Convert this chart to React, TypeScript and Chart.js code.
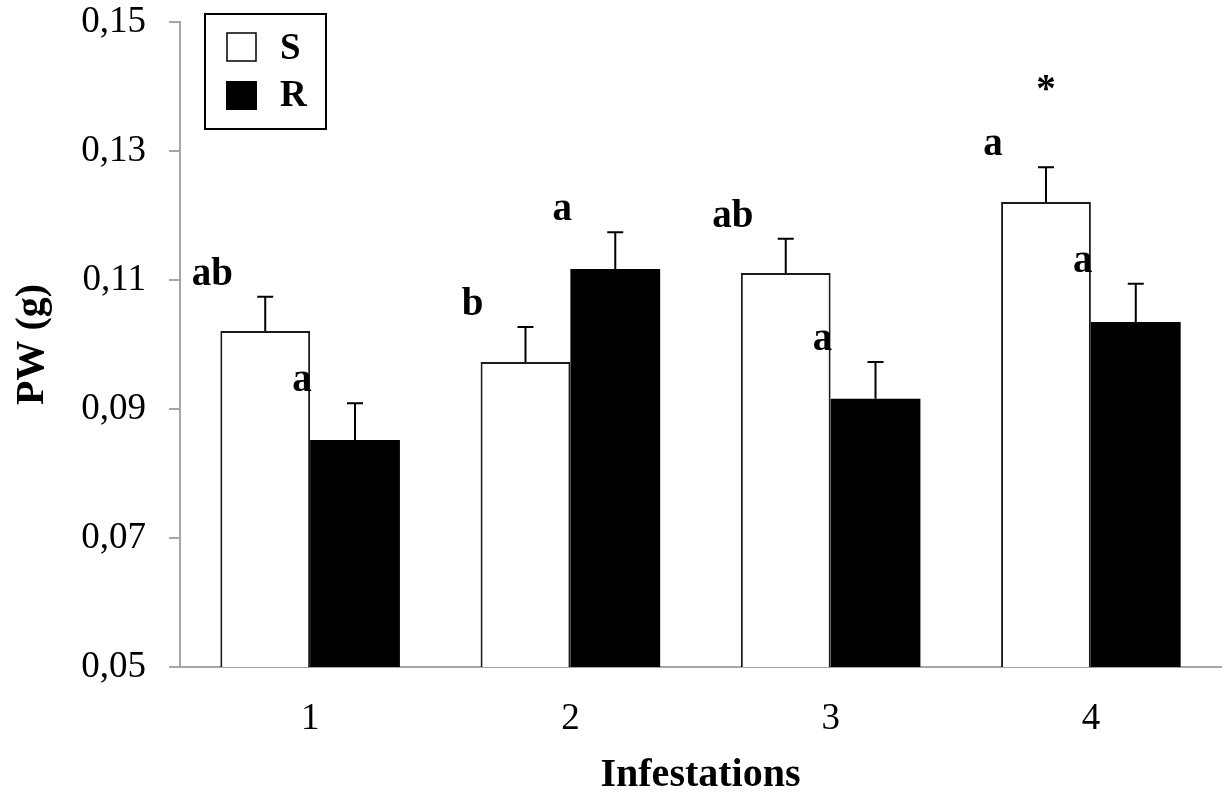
import React, { useEffect, useRef } from "react";
import { Chart, registerables } from "chart.js";

Chart.register(...registerables);

const categories = ["1", "2", "3", "4"];
const seriesNames = ["S", "R"];
const sMeans = [0.1021, 0.0973, 0.1111, 0.1221];
const sErrors = [0.0053, 0.0054, 0.0053, 0.0054];
const rMeans = [0.0852, 0.1117, 0.0916, 0.1035];
const rErrors = [0.0057, 0.0057, 0.0057, 0.0059];
const sLetters = ["ab", "b", "ab", "a"];
const rLetters = ["a", "a", "a", "a"];
const sMarks = ["", "", "", "*"];
const yTicks = [0.05, 0.07, 0.09, 0.11, 0.13, 0.15];

const FONT = '"Liberation Serif", "Times New Roman", serif';

const errorPlugin = {
  id: "errorsAndLetters",
  afterDatasetsDraw(chart: any) {
    const ctx = chart.ctx;
    const y = chart.scales.y;
    const errs = [sErrors, rErrors];
    const letters = [sLetters, rLetters];
    chart.data.datasets.forEach((ds: any, di: number) => {
      const meta = chart.getDatasetMeta(di);
      meta.data.forEach((el: any, i: number) => {
        const v = ds.data[i];
        const top = y.getPixelForValue(v + errs[di][i]);
        const base = y.getPixelForValue(v);
        ctx.save();
        ctx.strokeStyle = "#000";
        ctx.lineWidth = 2;
        ctx.beginPath();
        ctx.moveTo(el.x, base);
        ctx.lineTo(el.x, top);
        ctx.moveTo(el.x - 8, top);
        ctx.lineTo(el.x + 8, top);
        ctx.stroke();
        ctx.fillStyle = "#000";
        ctx.font = `bold 39px ${FONT}`;
        ctx.textAlign = "center";
        ctx.textBaseline = "alphabetic";
        ctx.fillText(letters[di][i], el.x - 53, top - 12);
        if (di === 0 && sMarks[i]) {
          ctx.textBaseline = "middle";
          ctx.fillText(sMarks[i], el.x, top - 76);
        }
        ctx.restore();
      });
    });
  },
  afterDraw(chart: any) {
    const ctx = chart.ctx;
    ctx.save();
    ctx.strokeStyle = "#000";
    ctx.lineWidth = 2;
    ctx.strokeRect(205, 14, 121, 115);
    ctx.fillStyle = "#fff";
    ctx.lineWidth = 1.5;
    ctx.fillRect(227, 33, 29, 28);
    ctx.strokeRect(227, 33, 29, 28);
    ctx.fillStyle = "#000";
    ctx.fillRect(226, 81, 31, 29);
    ctx.font = `bold 37px ${FONT}`;
    ctx.textAlign = "left";
    ctx.textBaseline = "middle";
    ctx.fillText(seriesNames[0], 280, 49);
    ctx.fillText(seriesNames[1], 280, 96);
    ctx.restore();
  },
};

export default function App() {
  const ref = useRef<HTMLCanvasElement>(null);
  useEffect(() => {
    if (!ref.current) return;
    const chart = new Chart(ref.current, {
      type: "bar",
      data: {
        labels: categories,
        datasets: [
          {
            label: seriesNames[0],
            data: sMeans,
            backgroundColor: "#ffffff",
            borderColor: "#1a1a1a",
            borderWidth: 2,
            borderSkipped: false,
            categoryPercentage: 0.69,
            barPercentage: 1,
          },
          {
            label: seriesNames[1],
            data: rMeans,
            backgroundColor: "#000000",
            borderColor: "#000",
            borderWidth: 0,
            categoryPercentage: 0.69,
            barPercentage: 1,
          },
        ],
      },
      options: {
        animation: false,
        responsive: false,
        maintainAspectRatio: false,
        layout: { padding: { top: 22, right: 4, left: 0, bottom: 0 } },
        plugins: {
          legend: { display: false },
          tooltip: { enabled: false },
        },
        scales: {
          x: {
            grid: { display: false, drawTicks: false },
            border: { display: true, color: "#a6a6a6", width: 2 },
            ticks: {
              color: "#000",
              font: { family: FONT, size: 37 },
              padding: 30,
            },
            title: {
              display: true,
              text: "Infestations",
              color: "#000",
              font: { family: FONT, size: 40, weight: "bold", lineHeight: 1 },
              padding: { top: 0, bottom: -2 },
            },
            afterFit(scale: any) {
              scale.height = 127;
            },
          },
          y: {
            min: 0.05,
            max: 0.15,
            afterBuildTicks(scale: any) {
              scale.ticks = yTicks.map((v) => ({ value: v }));
            },
            grid: {
              display: true,
              drawOnChartArea: false,
              drawTicks: true,
              tickLength: 11,
              color: "#a6a6a6",
              lineWidth: 2,
            },
            border: { display: true, color: "#a6a6a6", width: 2 },
            ticks: {
              color: "#000",
              font: { family: FONT, size: 37 },
              padding: 23,
              callback: (v: any) => Number(v).toFixed(2).replace(".", ","),
            },
            title: {
              display: true,
              text: "PW (g)",
              color: "#000",
              font: { family: FONT, size: 40, weight: "bold", lineHeight: 1.2 },
              padding: { top: 9, bottom: 0 },
            },
            afterFit(scale: any) {
              scale.width = 180;
              scale.paddingTop = 0;
              scale.paddingBottom = 0;
            },
          },
        },
      },
      plugins: [errorPlugin],
    });
    return () => chart.destroy();
  }, []);
  return (
    <div style={{ position: "fixed", left: 0, top: 0, width: 1225, height: 794, background: "#fff" }}>
      <canvas ref={ref} width={1225} height={794} style={{ width: 1225, height: 794 }} />
    </div>
  );
}
